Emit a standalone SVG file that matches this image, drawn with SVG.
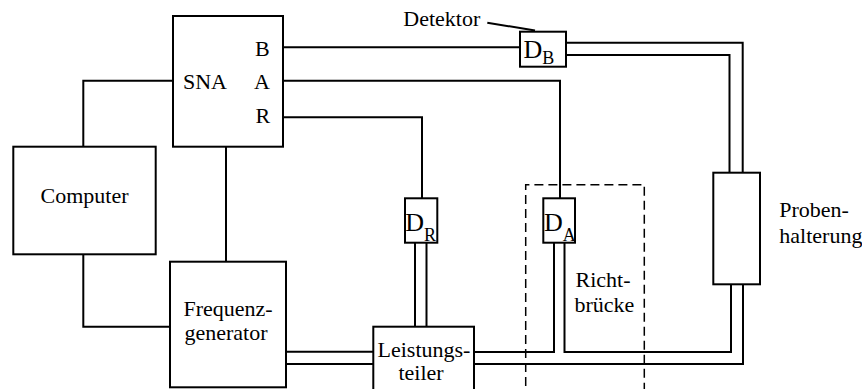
<svg xmlns="http://www.w3.org/2000/svg" width="862" height="389" viewBox="0 0 862 389">
<style>
.box{fill:#fff;stroke:#000;stroke-width:2}
.ln{fill:none;stroke:#000;stroke-width:2}
.dash{fill:none;stroke:#000;stroke-width:1.5;stroke-dasharray:9 5}
.t{font-family:"Liberation Serif","Times New Roman",serif;font-size:22px;fill:#000}
.big{font-size:26px}
.sub{font-size:18px}
</style>
<rect width="862" height="389" fill="#fff"/>
<g id="connectors">
<path class="ln" d="M173,80.7H83.3V146.7"/>
<path class="ln" d="M83.3,254.3V326.7H170"/>
<path class="ln" d="M226,146.7V261.7"/>
<path class="ln" d="M283,47.3H520"/>
<path class="ln" d="M283,80.7H560V198.3"/>
<path class="ln" d="M283,117.3H422V198.3"/>
<path class="ln" d="M487.3,22.7L535,30.5"/>
<path class="ln" d="M566,42.7H742.7V172.7"/>
<path class="ln" d="M566,55H729.5V172.7"/>
<path class="ln" d="M286,351.7H373.3M286,364H373.3"/>
<path class="ln" d="M415,242.7V326.7M426.5,242.7V326.7"/>
<path class="ln" d="M554,242.7V352H474"/>
<path class="ln" d="M564.5,242.7V352H731V284.3"/>
<path class="ln" d="M474,364H743V284.3"/>
</g>
<g id="richtbruecke">
<path class="dash" d="M525.7,400V184.7H644.3V400"/>
<text class="t" x="575.5" y="286.7">Richt-<tspan x="574.5" y="311.7">brücke</tspan></text>
</g>
<g id="sna">
<rect class="box" x="173" y="16" width="110" height="130.7"/>
<text class="t" x="183" y="89.3">SNA</text>
<text class="t" x="255" y="56">B</text>
<text class="t" x="254" y="89.3">A</text>
<text class="t" x="255.5" y="123.3">R</text>
</g>
<g id="computer">
<rect class="box" x="13.3" y="146.7" width="142.4" height="107.6"/>
<text class="t" x="84.5" y="203.3" text-anchor="middle">Computer</text>
</g>
<g id="frequenzgenerator">
<rect class="box" x="170" y="261.7" width="116" height="125.6"/>
<text class="t" x="228" y="316" text-anchor="middle">Frequenz-<tspan x="226" y="340">generator</tspan></text>
</g>
<g id="leistungsteiler">
<rect class="box" x="373.3" y="326.7" width="100.7" height="70"/>
<text class="t" x="424" y="356.7" text-anchor="middle">Leistungs-<tspan x="421" y="380">teiler</tspan></text>
</g>
<g id="detektor-label">
<text class="t" x="403.3" y="26">Detektor</text>
</g>
<g id="db">
<rect class="box" x="520" y="31.7" width="46" height="35"/>
<text class="t big" x="523.5" y="58.3">D<tspan class="sub" dy="5.2">B</tspan></text>
</g>
<g id="dr">
<rect class="box" x="405" y="198.3" width="32.3" height="44.4"/>
<text class="t big" x="405.3" y="231">D<tspan class="sub" dy="10">R</tspan></text>
</g>
<g id="da">
<rect class="box" x="543.3" y="198.3" width="31.7" height="44.4"/>
<text class="t big" x="544" y="231">D<tspan class="sub" dy="10">A</tspan></text>
</g>
<g id="probenhalterung">
<rect class="box" x="713.3" y="172.7" width="46.7" height="111.6"/>
<text class="t" x="779.3" y="216.7">Proben-<tspan x="779.3" y="243">halterung</tspan></text>
</g>
</svg>
